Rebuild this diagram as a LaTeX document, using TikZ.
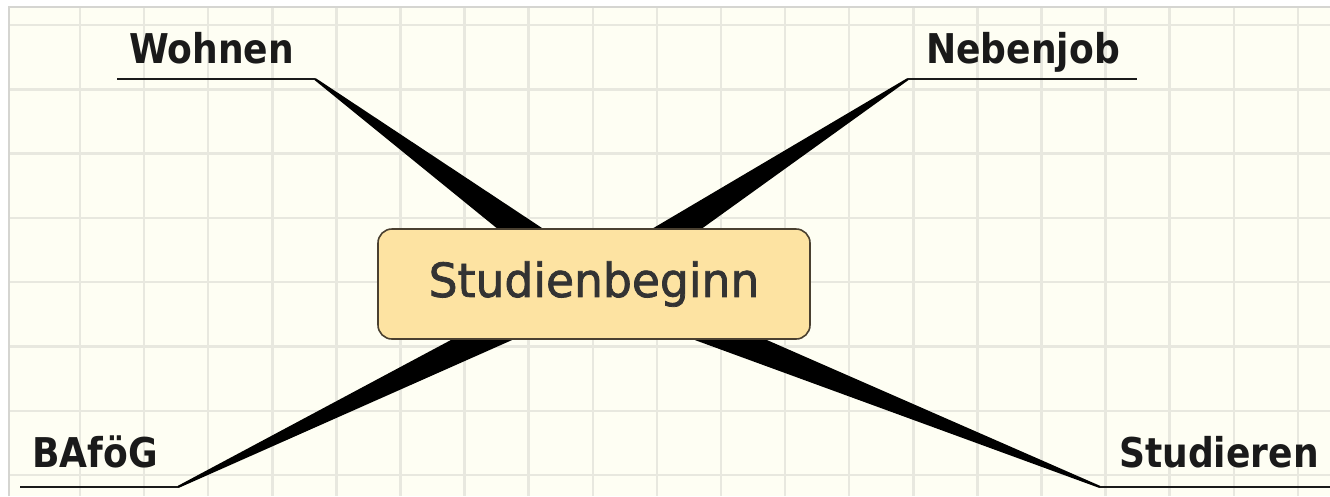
\documentclass[tikz,border=0pt]{standalone}
\usepackage{fontspec}
\usetikzlibrary{calc}
\newfontfamily\lblfont[FakeStretch=0.88]{DejaVu Sans}
\newfontfamily\hubfont[FakeBold=1.6,FakeStretch=0.97]{DejaVu Sans}
\definecolor{paper}{HTML}{FEFEF3}
\definecolor{gridc}{HTML}{E8E8DF}
\definecolor{hubfill}{HTML}{FDE3A2}
\definecolor{hubdraw}{HTML}{4A4030}
\definecolor{hubtext}{HTML}{333333}
\definecolor{ink}{HTML}{1A1A1A}
\tikzset{
  gridline/.style={draw=gridc, line width=2.5pt},
  hub/.style={draw=hubdraw, line width=1.6pt, fill=hubfill, rounded corners=14pt,
    minimum width=432pt, minimum height=110pt, inner sep=0pt,
    font=\hubfont\fontsize{47}{47}\selectfont, text=hubtext},
  lbl/.style={inner sep=0pt, anchor=base west, text=ink,
    font=\lblfont\bfseries\fontsize{41}{41}\selectfont},
  underline/.style={draw=ink, line width=2.2pt},
  branch/.style={fill=black, draw=none}
}
\begin{document}
\begin{tikzpicture}[x=1pt,y=-1pt]
\useasboundingbox (0,0) rectangle (1330,496);
% paper
\fill[white] (0,0) rectangle (1330,496);
\fill[paper] (9,7) rectangle (1330,496);
\foreach \gx in {80,144.1,208.2,272.3,336.4,400.5,464.6,528.7,592.8,656.9,721,785.1,849.2,913.3,977.4,1041.5,1105.6,1169.7,1233.8,1297.9}
  \draw[gridline] (\gx,7) -- (\gx,496);
\foreach \gy in {25,89.3,153.6,217.9,282.2,346.5,410.8,475.1}
  \draw[gridline] (9,\gy) -- (1330,\gy);
\draw[draw=gridc!80!black!60, line width=1.2pt] (9,496) -- (9,7) -- (1330,7);

% hub position and branch ends
\coordinate (c) at (594,284);
\coordinate (wE) at (315,79);  \coordinate (wS) at (117,79);
\coordinate (nE) at (908,79);  \coordinate (nS) at (1137,79);
\coordinate (bE) at (178,487); \coordinate (bS) at (20,487);
\coordinate (sE) at (1100,487); \coordinate (sS) at (1330,487);

% tapered branches
\foreach \e in {wE,nE,bE,sE}{
  \fill[branch] ($(\e)!1.1pt!90:(c)$) -- ($(c)!18pt!-90:(\e)$) -- ($(c)!18pt!90:(\e)$) -- ($(\e)!1.1pt!-90:(c)$) -- cycle;
}

% underlines
\draw[underline] (wS) -- (wE);
\draw[underline] (nE) -- (nS);
\draw[underline] (bS) -- (bE);
\draw[underline] (sE) -- (sS);

% labels
\node[lbl] (wohnen) at (129,63) {Wohnen};
\node[lbl] (nebenjob) at (926,63) {Nebenjob};
\node[lbl] (bafoeg) at (32,467) {BAföG};
\node[lbl] (studieren) at (1119,467) {Studieren};

% hub
\node[hub] (hubnode) at (c) {Studienbeginn};
\end{tikzpicture}
\end{document}
